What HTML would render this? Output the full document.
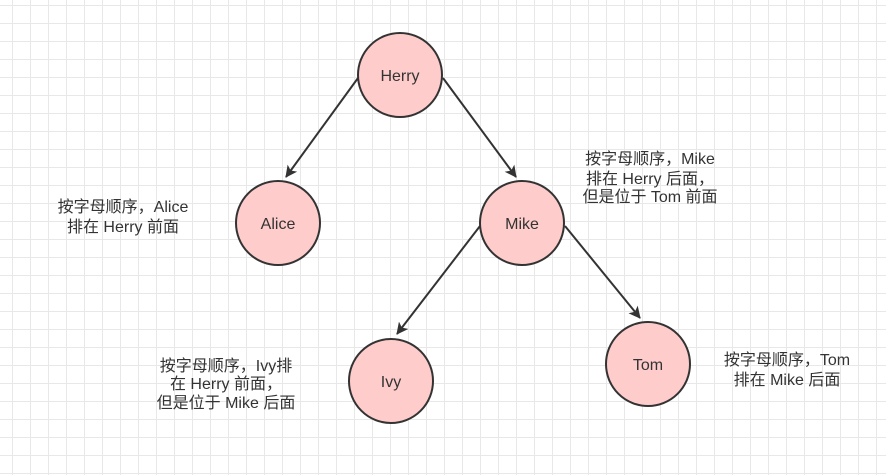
<!DOCTYPE html>
<html><head><meta charset="utf-8"><style>
html,body{margin:0;padding:0;}
body{width:886px;height:475px;overflow:hidden;background:#fff;
background-image:linear-gradient(to right,#e8e8e8 1px,transparent 1px),linear-gradient(to bottom,#e8e8e8 1px,transparent 1px);
background-size:18px 18px;background-position:12px 5px;}
svg{position:absolute;left:0;top:0;}
text{font-family:"Liberation Sans","Noto Sans CJK SC",sans-serif;font-size:16px;fill:#333;}
</style></head><body>
<svg width="886" height="475" xmlns="http://www.w3.org/2000/svg">
<defs><marker id="a" markerWidth="12" markerHeight="12" refX="11" refY="6" orient="auto" markerUnits="userSpaceOnUse"><path d="M0,0 L12,6 L0,12 L3,6 Z" fill="#333"/></marker></defs>
<g stroke="#333" stroke-width="2" fill="none">
<line x1="358" y1="78" x2="286" y2="177" marker-end="url(#a)"/>
<line x1="443" y1="78" x2="516" y2="177" marker-end="url(#a)"/>
<line x1="480" y1="226" x2="397" y2="334" marker-end="url(#a)"/>
<line x1="565" y1="226" x2="640" y2="318" marker-end="url(#a)"/>
</g>
<g fill="#ffcccc" stroke="#333" stroke-width="2">
<circle cx="400" cy="75" r="42"/>
<circle cx="278" cy="223" r="42"/>
<circle cx="522" cy="223" r="42"/>
<circle cx="391" cy="381" r="42"/>
<circle cx="648" cy="364" r="42"/>
</g>
<g text-anchor="middle">
<text x="400" y="81">Herry</text>
<text x="278" y="229">Alice</text>
<text x="522" y="229">Mike</text>
<text x="391" y="387">Ivy</text>
<text x="648" y="370">Tom</text>
<text x="123" y="212">按字母顺序，Alice</text>
<text x="123" y="232">排在 Herry 前面</text>
<text x="650" y="164">按字母顺序，Mike</text>
<text x="650" y="184">排在 Herry 后面，</text>
<text x="650" y="202">但是位于 Tom 前面</text>
<text x="226" y="371">按字母顺序，Ivy排</text>
<text x="226" y="389">在 Herry 前面，</text>
<text x="226" y="408">但是位于 Mike 后面</text>
<text x="787" y="365">按字母顺序，Tom</text>
<text x="787" y="385">排在 Mike 后面</text>
</g>
</svg>
</body></html>
